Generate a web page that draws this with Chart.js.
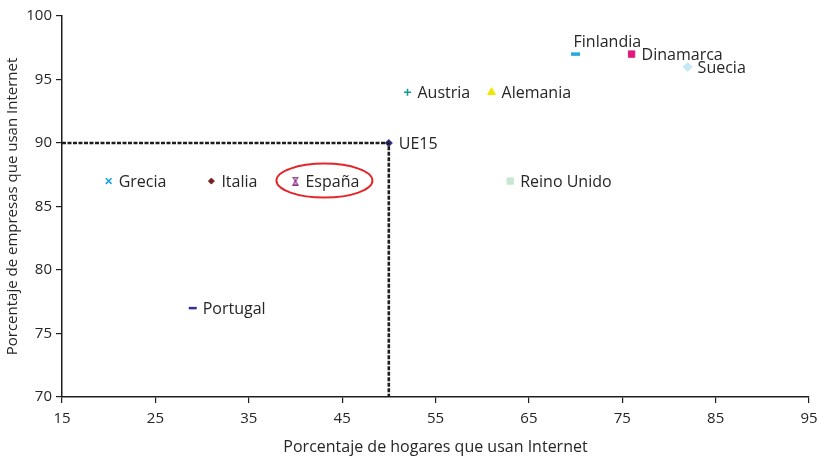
<!DOCTYPE html>
<html>
<head>
<meta charset="utf-8">
<script src="https://cdn.jsdelivr.net/npm/chart.js@4/dist/chart.umd.min.js"></script>
<style>
  html, body { margin: 0; padding: 0; background: #fff; }
  #wrap { width: 817px; height: 461px; }
</style>
</head>
<body>
<div id="wrap"><canvas id="grafico"></canvas></div>
<script>
// datos
const paises = ['Grecia', 'Italia', 'España', 'Portugal', 'UE15', 'Austria', 'Alemania', 'Reino Unido', 'Finlandia', 'Dinamarca', 'Suecia'];
const hogares = [20, 31, 40, 29, 50, 52, 61, 63, 70, 76, 82];
const empresas = [87, 87, 87, 77, 90, 94, 94, 87, 97, 97, 96];
const ticksX = [15, 25, 35, 45, 55, 65, 75, 85, 95];
const ticksY = [70, 75, 80, 85, 90, 95, 100];

const fuente = '"Open Sans", "DejaVu Sans", sans-serif';
const texto = '#262626';

// marcador de España (reloj de arena)
function marcaEspana() {
    const c = document.createElement('canvas');
    c.width = 9; c.height = 9;
    const g = c.getContext('2d');
    g.fillStyle = '#93388f';
    g.beginPath();
    g.moveTo(1, 0); g.lineTo(8, 0); g.lineTo(5.4, 4.5); g.lineTo(8, 9);
    g.lineTo(1, 9); g.lineTo(3.6, 4.5); g.closePath();
    g.fill();
    g.fillStyle = '#fff';
    g.fillRect(3.2, 1.6, 2.6, 1);
    g.fillRect(3.2, 6.4, 2.6, 1);
    return c;
}

const estilos = {
    'Grecia':      { style: 'crossRot', color: '#1aa3dc', r: 4, w: 1.6 },
    'Italia':      { style: 'rectRot',  color: '#7a1f1f', r: 3, w: 1 },
    'España':      { style: marcaEspana(), color: '#93388f', r: 4, w: 1 },
    'Portugal':    { style: 'line',     color: '#2e3192', r: 4, w: 2.5 },
    'UE15':        { style: 'rectRot',  color: '#2c2f8c', r: 3.5, w: 1 },
    'Austria':     { style: 'cross',    color: '#17989a', r: 3.5, w: 1.6 },
    'Alemania':    { style: 'triangle', color: '#f1e600', r: 4.5, w: 1 },
    'Reino Unido': { style: 'rect',     color: '#c9e7d2', r: 4.5, w: 1 },
    'Finlandia':   { style: 'line',     color: '#24a8e0', r: 4.5, w: 3.5 },
    'Dinamarca':   { style: 'rect',     color: '#e2197c', r: 4.5, w: 1 },
    'Suecia':      { style: 'rectRot',  color: '#c6e7f5', r: 4.5, w: 1 }
};

const puntos = paises.map((p, i) => ({ x: hogares[i], y: empresas[i] }));
const iUE = paises.indexOf('UE15');
const referencia = [
    { x: ticksX[0], y: empresas[iUE] },
    { x: hogares[iUE], y: empresas[iUE] },
    { x: hogares[iUE], y: ticksY[0] }
];

const etiquetas = {
    id: 'etiquetas',
    afterDatasetsDraw(chart) {
        const ctx = chart.ctx;
        const meta = chart.getDatasetMeta(1);
        ctx.save();
        ctx.font = '16px ' + fuente;
        ctx.fillStyle = texto;
        ctx.textBaseline = 'middle';
        ctx.textAlign = 'left';
        meta.data.forEach((el, i) => {
            const nombre = paises[i];
            if (nombre === 'Finlandia') {
                ctx.fillText(nombre, el.x - 2, el.y - 12);
            } else {
                ctx.fillText(nombre, el.x + 10, el.y + 1.5);
            }
        });
        // elipse roja alrededor de España
        const e = meta.data[paises.indexOf('España')];
        ctx.strokeStyle = '#e3262b';
        ctx.lineWidth = 2;
        ctx.beginPath();
        ctx.ellipse(e.x + 29, e.y - 0.5, 48, 17, 0, 0, Math.PI * 2);
        ctx.stroke();
        ctx.restore();
    }
};

new Chart(document.getElementById('grafico'), {
    type: 'scatter',
    data: {
        datasets: [
            {
                data: referencia,
                showLine: true,
                borderColor: '#1e1e1e',
                borderWidth: 2.6,
                borderDash: [4, 1.5],
                pointRadius: 0,
                fill: false
            },
            {
                data: puntos,
                pointStyle: paises.map(p => estilos[p].style),
                backgroundColor: paises.map(p => estilos[p].color),
                borderColor: paises.map(p => estilos[p].color),
                pointRadius: paises.map(p => estilos[p].r),
                pointBorderWidth: paises.map(p => estilos[p].w),
                pointHoverRadius: paises.map(p => estilos[p].r)
            }
        ]
    },
    options: {
        responsive: true,
        maintainAspectRatio: false,
        animation: false,
        layout: { padding: { top: 16, right: 7, left: 0, bottom: 0 } },
        plugins: {
            legend: { display: false },
            tooltip: { enabled: false }
        },
        scales: {
            x: {
                type: 'linear',
                min: ticksX[0],
                max: ticksX[ticksX.length - 1],
                afterBuildTicks: s => { s.ticks = ticksX.map(v => ({ value: v })); },
                afterFit: s => { s.height = 64; s.paddingLeft = 0; s.paddingRight = 0; },
                border: { display: true, color: '#1e1e1e', width: 1.5 },
                grid: { drawOnChartArea: false, drawTicks: true, tickLength: 6, color: '#1e1e1e', lineWidth: 1.2 },
                ticks: { color: texto, font: { family: fuente, size: 15 }, padding: 7, maxRotation: 0 },
                title: {
                    display: true,
                    text: 'Porcentaje de hogares que usan Internet',
                    color: texto,
                    font: { family: fuente, size: 16 },
                    padding: { top: 4 }
                }
            },
            y: {
                type: 'linear',
                min: ticksY[0],
                max: ticksY[ticksY.length - 1],
                afterBuildTicks: s => { s.ticks = ticksY.map(v => ({ value: v })); },
                afterFit: s => { s.width = 62; s.paddingTop = 0; s.paddingBottom = 0; },
                border: { display: true, color: '#1e1e1e', width: 1.5 },
                grid: { drawOnChartArea: false, drawTicks: true, tickLength: 6, color: '#1e1e1e', lineWidth: 1.2 },
                ticks: { color: texto, font: { family: fuente, size: 15 }, padding: 4 },
                title: {
                    display: true,
                    text: 'Porcentaje de empresas que usan Internet',
                    color: texto,
                    font: { family: fuente, size: 15 },
                    padding: { bottom: 2 }
                }
            }
        }
    },
    plugins: [etiquetas]
});
</script>
</body>
</html>
